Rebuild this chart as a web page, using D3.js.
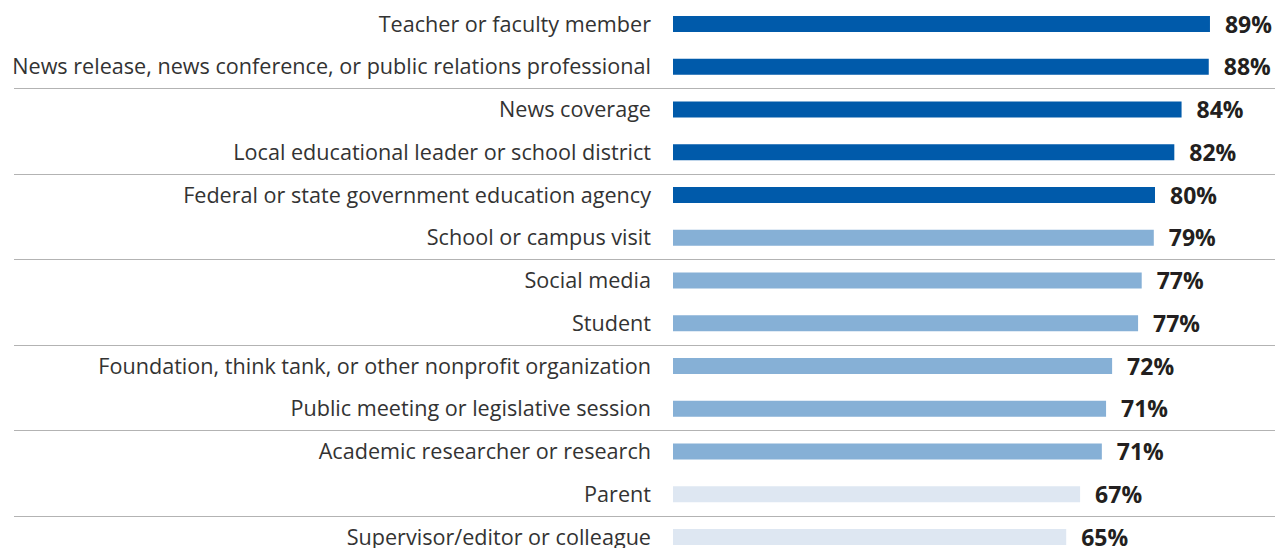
<!DOCTYPE html>
<html><head><meta charset="utf-8">
<script src="https://cdn.jsdelivr.net/npm/d3@7"></script>
<style>body{margin:0;background:#fff}svg{display:block}</style>
</head><body><svg id="c" width="1275" height="548"></svg>
<script>
const categories = ["Teacher or faculty member","News release, news conference, or public relations professional","News coverage","Local educational leader or school district","Federal or state government education agency","School or campus visit","Social media","Student","Foundation, think tank, or other nonprofit organization","Public meeting or legislative session","Academic researcher or research","Parent","Supervisor/editor or colleague"];
const values = [88.9,88.7,84.2,83.0,79.8,79.6,77.6,77.0,72.7,71.7,71.0,67.4,65.1];
const valueLabels = ["89%","88%","84%","82%","80%","79%","77%","77%","72%","71%","71%","67%","65%"];
const tiers = [0,0,0,0,0,1,1,1,1,1,1,2,2];
const tierColors = ["#005AAA","#86B0D6","#DEE7F2"];

const svg = d3.select("#c");
const x = d3.scaleLinear().domain([0,100]).range([673,1277]);
const y = d3.scalePoint().domain(categories).range([24,537]);
const barH = 16;
const step = y.step();

const seps = categories.map((c,i)=>i).filter(i=>i%2===1 && i<categories.length-1);
svg.selectAll("line.sep").data(seps).join("line")
  .attr("x1",14).attr("x2",1275)
  .attr("y1",i=>Math.round(y(categories[i])+step/2)+0.5)
  .attr("y2",i=>Math.round(y(categories[i])+step/2)+0.5)
  .attr("stroke","#b3b3b3").attr("stroke-width",1.2);

svg.selectAll("rect.bar").data(values).join("rect")
  .attr("x",x(0)).attr("y",(d,i)=>y(categories[i])-barH/2)
  .attr("width",d=>x(d)-x(0)).attr("height",barH)
  .attr("fill",(d,i)=>tierColors[tiers[i]]);

const labs = svg.selectAll("text.lab").data(categories).join("text")
  .attr("x",651).attr("y",d=>y(d)).attr("dy","0.35em")
  .attr("text-anchor","end")
  .style("font-family","'Open Sans', sans-serif").style("font-size","20px")
  .attr("fill","#333").text(d=>d);
// fit longest label to the reference width (left edge at ~12px)
const longest = d3.max(labs.nodes(), n=>n.getComputedTextLength());
labs.style("font-size",(20*639/longest).toFixed(2)+"px");

const vals = svg.selectAll("text.val").data(values).join("text")
  .attr("x",d=>x(d)+15).attr("y",(d,i)=>y(categories[i])).attr("dy","0.37em")
  .style("font-family","'Open Sans', sans-serif").style("font-size","20px").style("font-weight","700")
  .attr("fill","#231f20").text((d,i)=>valueLabels[i]);
const vw = vals.nodes()[0].getComputedTextLength();
vals.style("font-size",(20*47/vw).toFixed(2)+"px");
</script></body></html>
